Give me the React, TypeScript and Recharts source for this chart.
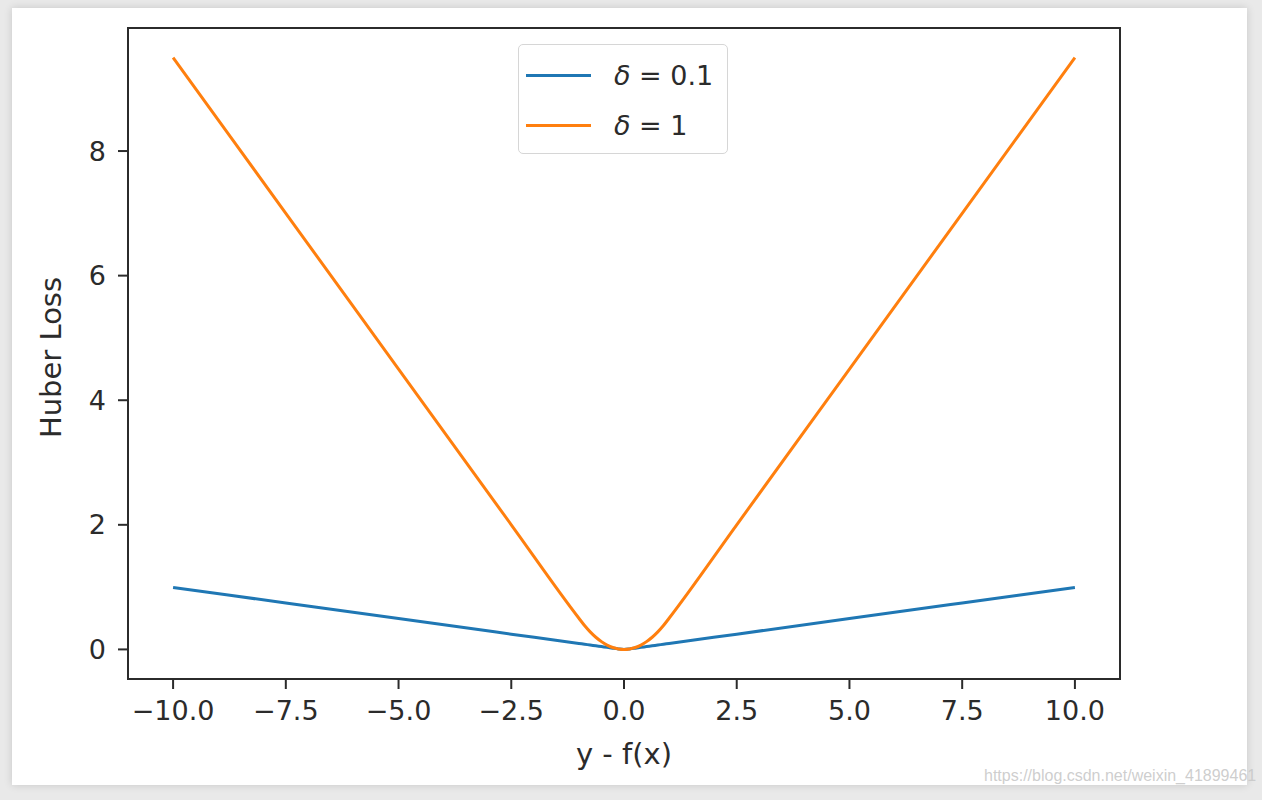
import React from 'react';
import { LineChart, Line, XAxis, YAxis, Legend, ReferenceArea } from 'recharts';

// residual values y - f(x)
const residuals = [
  -10, -7.5, -5, -2.5, -1, -0.875, -0.75, -0.625, -0.5, -0.375, -0.25, -0.125, 0,
  0.125, 0.25, 0.375, 0.5, 0.625, 0.75, 0.875, 1, 2.5, 5, 7.5, 10,
];

// huber loss, delta = 0.1
const lossSmallDelta = [
  0.995, 0.745, 0.495, 0.245, 0.095, 0.083, 0.07, 0.058, 0.045, 0.033, 0.02, 0.008, 0,
  0.008, 0.02, 0.033, 0.045, 0.058, 0.07, 0.083, 0.095, 0.245, 0.495, 0.745, 0.995,
];

// huber loss, delta = 1
const lossUnitDelta = [
  9.5, 7.0, 4.5, 2.0, 0.5, 0.383, 0.281, 0.195, 0.125, 0.07, 0.031, 0.008, 0,
  0.008, 0.031, 0.07, 0.125, 0.195, 0.281, 0.383, 0.5, 2.0, 4.5, 7.0, 9.5,
];

const xTicks = [-10, -7.5, -5, -2.5, 0, 2.5, 5, 7.5, 10];
const yTicks = [0, 2, 4, 6, 8];

const seriesInfo = [
  { key: 'small', color: '#1f77b4', delta: '0.1' },
  { key: 'unit', color: '#ff7f0e', delta: '1' },
];

const data = residuals.map((x, i) => ({
  x,
  small: lossSmallDelta[i],
  unit: lossUnitDelta[i],
}));

const FONT = '"DejaVu Sans", sans-serif';
const INK = '#2b2b2b';

const fmtX = (v: number) => (v < 0 ? '\u2212' : '') + Math.abs(v).toFixed(1);
const fmtY = (v: number) => (v < 0 ? '\u2212' : '') + String(Math.abs(v));

const LegendBox = () => (
  <div
    style={{
      border: '1px solid #d6d6d6',
      borderRadius: 5,
      background: 'rgba(255,255,255,0.85)',
      padding: '5px 14px 3px 7px',
      fontFamily: FONT,
      fontSize: 27,
      color: INK,
    }}
  >
    {seriesInfo.map((s) => (
      <div key={s.key} style={{ display: 'flex', alignItems: 'center', height: 50 }}>
        <div style={{ width: 65, height: 3, background: s.color, marginRight: 23 }} />
        <span>
          <i>δ</i> = {s.delta}
        </span>
      </div>
    ))}
  </div>
);

export default function App() {
  return (
    <div
      style={{
        position: 'fixed',
        left: 0,
        top: 0,
        width: 1262,
        height: 800,
        background: '#e9e9e9',
        overflow: 'hidden',
      }}
    >
      <div
        style={{
          position: 'absolute',
          left: 12,
          top: 8,
          width: 1235,
          height: 777,
          background: '#fff',
          boxShadow: '0 0 8px rgba(0,0,0,0.15)',
        }}
      />
      <div style={{ position: 'absolute', left: 0, top: 0 }}>
        <LineChart
          width={1262}
          height={800}
          data={data}
          margin={{ top: 28, right: 142, bottom: 31, left: 48 }}
        >
          <XAxis
            dataKey="x"
            type="number"
            domain={[-11, 11]}
            allowDataOverflow
            ticks={xTicks}
            tickFormatter={fmtX}
            height={90}
            tickSize={10}
            tickMargin={12}
            stroke={INK}
            strokeWidth={2}
            tick={{ fill: INK, fontSize: 27, fontFamily: FONT }}
            label={{
              value: 'y - f(x)',
              position: 'insideBottom',
              offset: 5,
              fill: INK,
              fontSize: 29,
              fontFamily: FONT,
            }}
          />
          <YAxis
            type="number"
            domain={[-0.475, 9.975]}
            allowDataOverflow
            ticks={yTicks}
            tickFormatter={fmtY}
            width={80}
            tickSize={10}
            tickMargin={12}
            stroke={INK}
            strokeWidth={2}
            tick={{ fill: INK, fontSize: 27, fontFamily: FONT }}
            label={{
              value: 'Huber Loss',
              angle: -90,
              position: 'insideLeft',
              offset: 3,
              dy: 4,
              fill: INK,
              fontSize: 29,
              fontFamily: FONT,
              style: { textAnchor: 'middle' },
            }}
          />
          <ReferenceArea
            x1={-11}
            x2={11}
            y1={-0.475}
            y2={9.975}
            fill="none"
            stroke={INK}
            strokeWidth={2}
            ifOverflow="visible"
          />
          {seriesInfo.map((s) => (
            <Line
              key={s.key}
              dataKey={s.key}
              type="monotone"
              stroke={s.color}
              strokeWidth={3}
              dot={false}
              isAnimationActive={false}
            />
          ))}
          <Legend
            layout="vertical"
            align="center"
            verticalAlign="middle"
            content={<LegendBox />}
            wrapperStyle={{ left: 518, top: 44, width: 'auto' }}
          />
        </LineChart>
      </div>
      <div
        style={{
          position: 'absolute',
          left: 984,
          top: 767,
          fontFamily: '"Liberation Sans", sans-serif',
          fontSize: 16,
          color: 'rgba(200,200,200,0.9)',
        }}
      >
        https://blog.csdn.net/weixin_41899461
      </div>
    </div>
  );
}
